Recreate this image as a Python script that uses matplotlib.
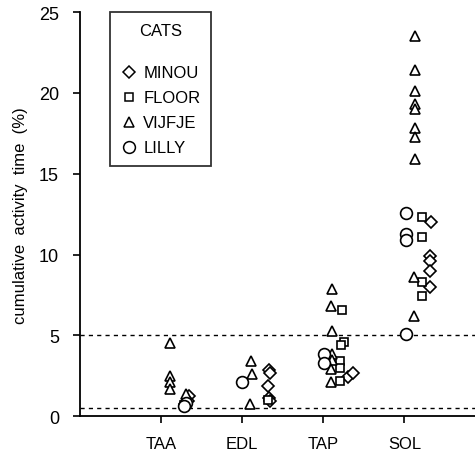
import matplotlib
matplotlib.use("Agg")
import matplotlib.pyplot as plt
from matplotlib.lines import Line2D

plt.rcParams['font.family'] = ['Liberation Sans', 'DejaVu Sans']

muscles = ["TAA", "EDL", "TAP", "SOL"]
muscle_pos = [1, 2, 3, 4]

# MINOU (diamonds)
minou_x = [1.35, 1.33, 1.30, 2.33, 2.34, 2.32, 2.33, 2.34, 3.30, 3.37,
           4.33, 4.32, 4.32, 4.32, 4.32]
minou_y = [1.25, 0.95, 0.75, 2.85, 2.7, 1.85, 1.15, 0.95, 2.4, 2.65,
           12.0, 9.9, 9.6, 9.0, 8.0]

# FLOOR (squares)
floor_x = [1.31, 1.28, 2.32, 3.23, 3.26, 3.22, 3.21, 3.21, 3.21,
           4.22, 4.22, 4.22, 4.22]
floor_y = [0.85, 0.7, 1.0, 6.6, 4.6, 4.4, 3.4, 3.0, 2.2,
           12.3, 11.1, 8.3, 7.45]

# VIJFJE (triangles)
vijfje_x = [1.11, 1.11, 1.11, 1.11, 1.31, 2.11, 2.12, 2.10,
            3.11, 3.10, 3.11, 3.11, 3.11, 3.10, 3.10,
            4.13, 4.13, 4.13, 4.13, 4.13, 4.13, 4.13, 4.13, 4.12, 4.12]
vijfje_y = [4.5, 2.5, 2.1, 1.7, 1.4, 3.4, 2.6, 0.75,
            7.9, 6.8, 5.3, 3.85, 3.5, 2.9, 2.1,
            23.5, 21.4, 20.1, 19.3, 19.0, 17.8, 17.3, 15.9, 8.6, 6.2]

# LILLY (circles)
lilly_x = [1.31, 1.29, 2.0, 3.01, 3.01, 4.02, 4.02, 4.02, 4.02]
lilly_y = [0.8, 0.65, 2.1, 3.85, 3.3, 12.6, 11.3, 10.9, 5.1]

cats = [("MINOU", "D", 6.0, minou_x, minou_y),
        ("FLOOR", "s", 6.0, floor_x, floor_y),
        ("VIJFJE", "^", 6.5, vijfje_x, vijfje_y),
        ("LILLY", "o", 8.5, lilly_x, lilly_y)]

fig = plt.figure(figsize=(4.75, 4.52), dpi=100)
ax = fig.add_axes([0.168, 0.077, 0.832, 0.894])

ax.axhline(5, color="black", lw=1.0, ls=(0, (3, 3)))
ax.axhline(0.5, color="black", lw=1.0, ls=(0, (3, 3)))

handles = []
for name, mk, ms, xs, ys in cats:
    ax.plot(xs, ys, ls="none", marker=mk, ms=ms, mfc="white", mec="black",
            mew=1.2)
    handles.append(Line2D([], [], ls="none", marker=mk, ms=ms,
                          mfc="white", mec="black", mew=1.1, label=name))

ax.set_xlim(0, 4.87)
ax.set_ylim(0, 25)
ax.set_xticks(muscle_pos)
ax.set_xticklabels(muscles)
ax.set_yticks([0, 5, 10, 15, 20, 25])
ax.tick_params(axis="both", direction="out", length=5, width=1.2,
               labelsize=13, colors="black")
ax.tick_params(axis="x", pad=9, labelsize=12)
ax.tick_params(axis="y", pad=10)
ax.spines["top"].set_visible(False)
ax.spines["right"].set_visible(False)
ax.spines["left"].set_linewidth(1.3)
ax.spines["bottom"].set_linewidth(1.3)
ax.set_ylabel("cumulative  activity  time  (%)", fontsize=12, labelpad=8)

leg = ax.legend(handles=handles, title="CATS\n", loc="upper left",
                bbox_to_anchor=(0.076, 1.0), frameon=True, fancybox=False,
                edgecolor="black", fontsize=12, title_fontsize=12,
                labelspacing=0.6, handletextpad=0.35, handlelength=1.0,
                borderpad=0.65, borderaxespad=0.0)
leg.get_frame().set_linewidth(1.3)

fig.savefig("out.png", dpi=100)
